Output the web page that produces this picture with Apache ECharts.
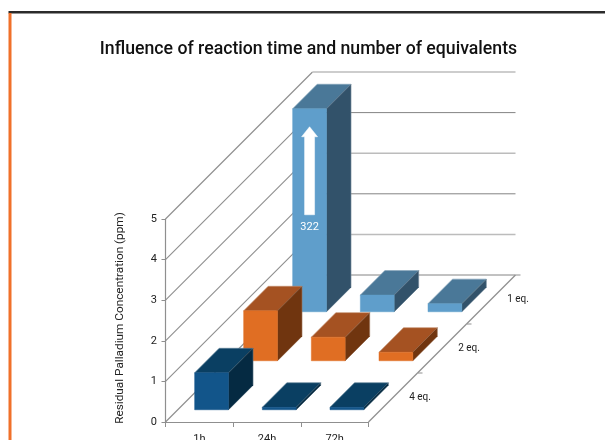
<!DOCTYPE html>
<html><head><meta charset="utf-8">
<style>html,body{margin:0;padding:0;background:#fff;overflow:hidden}#c{width:605px;height:440px}</style>
<script src="https://cdn.jsdelivr.net/npm/echarts@6/dist/echarts.min.js"></script>
</head><body><div id="c"></div>
<script>
const titleText = 'Influence of reaction time and number of equivalents';
const yAxisName = 'Residual Palladium Concentration (ppm)';
const times = ['1h', '24h', '72h'];
const yTicks = [0, 1, 2, 3, 4, 5];
const eq1 = [322, 0.41, 0.2];
const eq2 = [1.23, 0.58, 0.21];
const eq4 = [0.91, 0.06, 0.06];
const depthLabels = ['4 eq.', '2 eq.', '1 eq.'];

const FONT = 'Roboto';
const yMax = 5;
const rowDepth = 49;
const rows = [
  {name: depthLabels[2], data: eq1, r: 2, front: '#5f9ecb', top: '#4a7898', side: '#32526a'},
  {name: depthLabels[1], data: eq2, r: 1, front: '#e06e23', top: '#a55222', side: '#70350f'},
  {name: depthLabels[0], data: eq4, r: 0, front: '#12558a', top: '#0a3f62', side: '#052a42'}
];
const poly = (pts, fill, stroke) => ({type: 'polygon', shape: {points: pts},
  style: {fill, stroke: stroke || fill, lineWidth: 0.5}, silent: true});
const line = (x1, y1, x2, y2, stroke, lineWidth) => ({type: 'line',
  shape: {x1, y1, x2, y2}, style: {stroke, lineWidth: lineWidth || 1, fill: null}, silent: true});

function barItem(row) {
  return function (params, api) {
    const val = api.value(1);
    const clipped = val > yMax;
    const p = api.coord([api.value(0), Math.min(val, yMax)]);
    const p0 = api.coord([api.value(0), 0]);
    const band = api.size([1, 0])[0];
    const w = band / 2;
    const d0 = (row.r + 0.25) * rowDepth;
    const dd = rowDepth / 2;
    const x = p[0] - w / 2 + d0, xr = x + w;
    const yt = p[1] - d0, yb = p0[1] - d0;
    const children = [
      poly([[x, yt], [xr, yt], [xr + dd, yt - dd], [x + dd, yt - dd]], row.top),
      poly([[xr, yt], [xr + dd, yt - dd], [xr + dd, yb - dd], [xr, yb]], row.side),
      poly([[x, yt], [xr, yt], [xr, yb], [x, yb]], row.front),
      {type: 'polyline', shape: {points: [[x, yt], [x + dd, yt - dd], [xr + dd, yt - dd], [xr + dd, yb - dd]]},
        style: {stroke: 'rgba(255,255,255,0.3)', lineWidth: 0.7, fill: null}, silent: true},
      line(xr, yt, xr + dd, yt - dd, 'rgba(255,255,255,0.22)', 0.7)
    ];
    if (clipped) {
      const cx = x + w / 2;
      const t = yt + 18, b = yt + 106;
      children.push(poly([[cx, t], [cx + 8, t + 10], [cx + 5, t + 10], [cx + 5, b], [cx - 5, b], [cx - 5, t + 10], [cx - 8, t + 10]], '#ffffff'));
      children.push({type: 'text', silent: true, style: {text: String(val), x: cx, y: b + 12,
        fill: '#ffffff', font: '11px ' + FONT, textAlign: 'center', textVerticalAlign: 'middle'}});
    }
    return {type: 'group', children};
  };
}

function wallItem(params, api) {
  const v = api.value(0);
  const cs = params.coordSys;
  const y = api.coord([0, v])[1];
  const D = rowDepth * depthLabels.length;
  const x0 = cs.x, x1 = cs.x + cs.width;
  const light = v % 2 === 1;
  return {type: 'group', children: [
    line(x0, y, x0 + D, y - D, '#8c8c8c', 1.1),
    line(x0 + D, y - D, x1 + D, y - D, light ? '#bcbcbc' : '#848484', light ? 1.5 : 1)
  ]};
}

function depthItem(params, api) {
  const i = api.value(0);
  const cs = params.coordSys;
  const xr = cs.x + cs.width, yb = cs.y + cs.height;
  const d = (i + 1) * rowDepth, c = (i + 0.5) * rowDepth;
  const kids = [
    line(xr + d - rowDepth, yb - d + rowDepth, xr + d, yb - d, '#8f8f8f', 1.2),
    line(xr + d, yb - d, xr + d + 5, yb - d, '#8f8f8f', 1),
    {type: 'text', silent: true, style: {text: depthLabels[i], x: xr + c + 27, y: yb - c,
      fill: '#222', font: '10px ' + FONT, textAlign: 'center', textVerticalAlign: 'middle'}}
  ];
  return {type: 'group', children: kids};
}

const chart = echarts.init(document.getElementById('c'), null, {renderer: 'canvas'});
chart.setOption({
  animation: false,
  backgroundColor: '#fff',
  title: {text: titleText, left: 303.5, top: 36, textAlign: 'center',
    textStyle: {fontFamily: FONT, fontSize: 17.7, fontWeight: 500, color: '#111'}},
  graphic: [
    {type: 'rect', shape: {x: 8.5, y: 11, width: 597, height: 2.5}, style: {fill: '#2b2b2b'}, silent: true},
    {type: 'rect', shape: {x: 8.5, y: 13, width: 3, height: 427}, style: {fill: '#f0702a'}, silent: true}
  ],
  grid: {left: 165.5, top: 219, width: 203, height: 203, containLabel: false, outerBoundsMode: 'none'},
  xAxis: {type: 'category', data: times, boundaryGap: true,
    axisLine: {lineStyle: {color: '#8f8f8f', width: 1.2}},
    axisTick: {show: true, length: 5, alignWithLabel: false, lineStyle: {color: '#8f8f8f'}},
    axisLabel: {fontFamily: FONT, fontSize: 11, color: '#222', margin: 12},
    splitLine: {show: false}},
  yAxis: {type: 'value', min: 0, max: yMax, interval: 1,
    name: yAxisName, nameLocation: 'middle', nameGap: 39, nameRotate: 90,
    nameTextStyle: {fontFamily: FONT, fontSize: 11.8, color: '#222', padding: [0, 0, 0, 5]},
    axisLine: {show: true, lineStyle: {color: '#8f8f8f', width: 1.2}},
    axisTick: {show: true, length: 4, lineStyle: {color: '#8f8f8f'}},
    axisLabel: {fontFamily: FONT, fontSize: 11, color: '#222', margin: 8.5},
    splitLine: {show: false}},
  series: [
    {type: 'custom', name: 'walls', renderItem: wallItem, data: yTicks.map(v => [v]), clip: false, silent: true, z: 1,
      encode: {y: 0}},
    {type: 'custom', name: 'depth', renderItem: depthItem, data: depthLabels.map((_, i) => [i]), clip: false, silent: true, z: 1,
      encode: {x: 0}}
  ].concat(rows.map((row, k) => ({
    type: 'custom', name: row.name, renderItem: barItem(row),
    data: row.data.map((v, i) => [i, v]), encode: {x: 0, y: 1}, clip: false, silent: true, z: 2 + k
  })))
});
</script></body></html>
